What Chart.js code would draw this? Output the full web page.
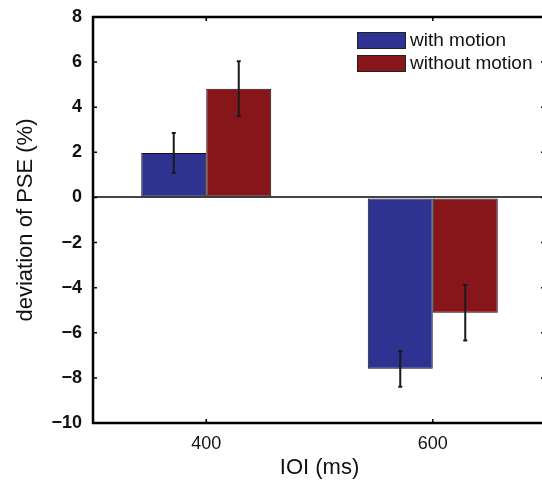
<!DOCTYPE html>
<html><head><meta charset="utf-8">
<script src="https://cdn.jsdelivr.net/npm/chart.js@4/dist/chart.umd.min.js"></script>
<style>
html,body{margin:0;padding:0;overflow:hidden;background:#fff;width:542px;height:486px}
canvas{display:block}
</style></head>
<body><canvas id="c" width="552" height="486"></canvas>
<script>
// ---- data ----
const categories = ['400', '600'];
const seriesNames = ['with motion', 'without motion'];
const withMotion = [1.97, -7.6];
const withoutMotion = [4.82, -5.11];
const withMotionErr = [0.89, 0.79];
const withoutMotionErr = [1.22, 1.23];
const yMin = -10, yMax = 8, yStep = 2;
const xTitle = 'IOI (ms)';
const yTitle = 'deviation of PSE (%)';

const colors = ['#2e3290', '#87161b'];
const FONT = "'Liberation Sans', Arial, Helvetica, sans-serif";

const errPlugin = {
  id: 'errbars',
  afterDatasetsDraw(chart) {
    const ctx = chart.ctx, y = chart.scales.y;
    chart.data.datasets.forEach((ds, di) => {
      const meta = chart.getDatasetMeta(di);
      meta.data.forEach((bar, i) => {
        const v = ds.data[i], e = ds.err[i];
        const y1 = y.getPixelForValue(v + e), y2 = y.getPixelForValue(v - e);
        ctx.save();
        ctx.strokeStyle = '#1a1a1a';
        ctx.lineWidth = 2;
        ctx.beginPath();
        ctx.moveTo(bar.x, y1); ctx.lineTo(bar.x, y2);
        ctx.moveTo(bar.x - 2, y1); ctx.lineTo(bar.x + 2, y1);
        ctx.moveTo(bar.x - 2, y2); ctx.lineTo(bar.x + 2, y2);
        ctx.stroke();
        ctx.restore();
      });
    });
  }
};

const framePlugin = {
  id: 'frame',
  afterDraw(chart) {
    const ctx = chart.ctx, a = chart.chartArea, ys = chart.scales.y, xs = chart.scales.x;
    ctx.save();
    ctx.strokeStyle = '#000';
    ctx.lineWidth = 2.5;
    ctx.strokeRect(a.left, a.top, a.right - a.left, a.bottom - a.top);
    ctx.lineWidth = 1.5;
    ctx.beginPath();
    ys.ticks.forEach(t => {
      const py = ys.getPixelForValue(t.value);
      ctx.moveTo(a.left, py); ctx.lineTo(a.left + 4, py);
      ctx.moveTo(a.right, py); ctx.lineTo(a.right - 5, py);
    });
    xs.ticks.forEach((t, i) => {
      const px = xs.getPixelForTick(i);
      ctx.moveTo(px, a.bottom); ctx.lineTo(px, a.bottom - 4);
      ctx.moveTo(px, a.top); ctx.lineTo(px, a.top + 4);
    });
    ctx.stroke();
    // legend
    const lx = a.right - 189, ly = a.top + 15;
    ctx.font = '19px ' + FONT;
    ctx.textBaseline = 'middle';
    ctx.textAlign = 'left';
    chart.data.datasets.forEach((ds, i) => {
      const top = ly + i * 23;
      ctx.fillStyle = ds.backgroundColor;
      ctx.fillRect(lx, top, 49, 17);
      ctx.lineWidth = 1;
      ctx.strokeStyle = '#222';
      ctx.strokeRect(lx + 0.5, top + 0.5, 48, 16);
      ctx.fillStyle = '#111';
      ctx.fillText(ds.label, lx + 53, top + 9);
    });
    ctx.restore();
  }
};

new Chart(document.getElementById('c'), {
  type: 'bar',
  data: {
    labels: categories,
    datasets: [
      { label: seriesNames[0], data: withMotion, err: withMotionErr, backgroundColor: colors[0] },
      { label: seriesNames[1], data: withoutMotion, err: withoutMotionErr, backgroundColor: colors[1] }
    ]
  },
  options: {
    responsive: false,
    animation: false,
    layout: { padding: { left: 0, right: 6, top: 17, bottom: 0 } },
    datasets: { bar: { categoryPercentage: 0.574, barPercentage: 1.0, borderColor: '#111', borderWidth: 1, borderSkipped: false } },
    plugins: { legend: { display: false }, tooltip: { enabled: false } },
    scales: {
      x: {
        grid: { display: false, drawTicks: false },
        border: { display: false },
        ticks: { color: '#111', font: { family: FONT, size: 18 }, padding: 10 },
        title: { display: true, text: xTitle, color: '#111', font: { family: FONT, size: 22 }, padding: { top: 0, bottom: 5 } },
        afterFit(s) { s.height = 63; s.paddingLeft = 0; s.paddingRight = 0; }
      },
      y: {
        min: yMin, max: yMax,
        grid: {
          drawTicks: false,
          color: c => (c.tick && c.tick.value === 0) ? '#444' : 'rgba(0,0,0,0)',
          lineWidth: 2
        },
        border: { display: false },
        ticks: {
          stepSize: yStep, color: '#111', padding: 11,
          font: { family: FONT, size: 18, weight: 'bold' },
          callback: v => (v < 0 ? '\u2212' + Math.abs(v) : String(v))
        },
        title: { display: true, text: yTitle, color: '#111', font: { family: FONT, size: 22 }, padding: { top: 13, bottom: 0 } },
        afterFit(s) { s.width = 93; s.paddingTop = 0; s.paddingBottom = 0; }
      }
    }
  },
  plugins: [errPlugin, framePlugin]
});
</script>
</body></html>
